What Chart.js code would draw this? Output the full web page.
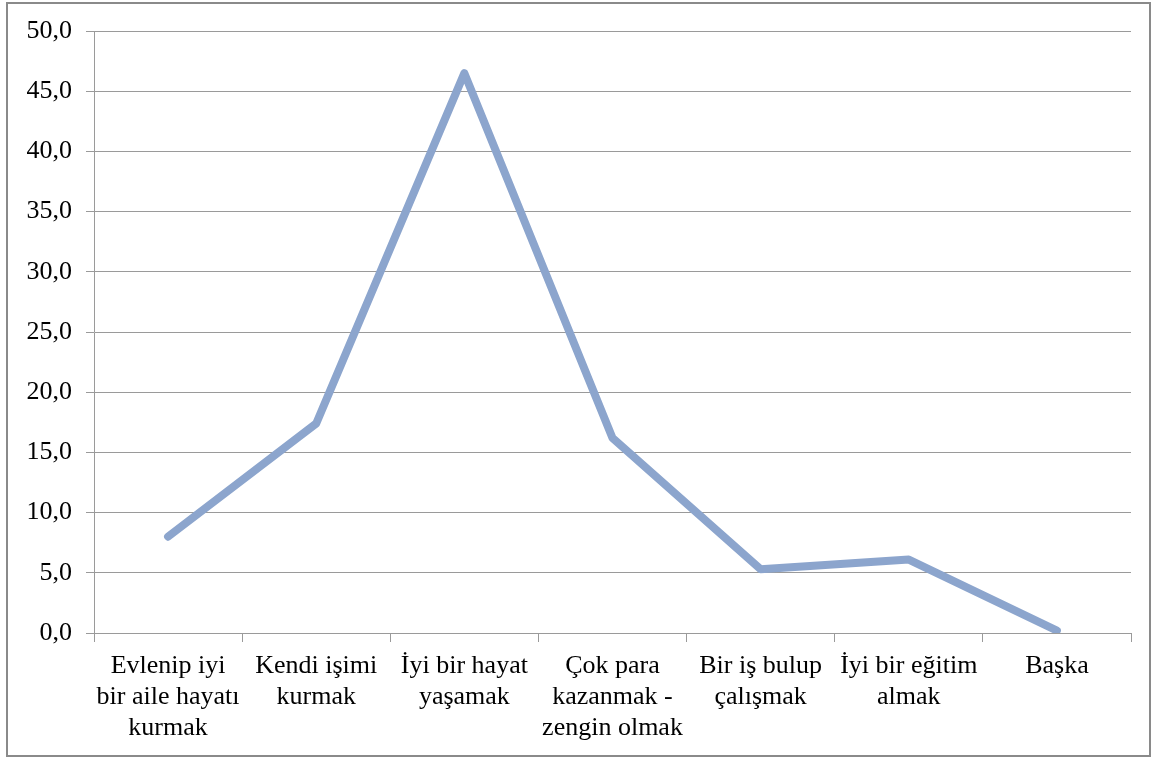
<!DOCTYPE html>
<html>
<head>
<meta charset="utf-8">
<script src="https://cdn.jsdelivr.net/npm/chart.js@4"></script>
<style>
  html, body { margin: 0; padding: 0; background: #fff; }
  #wrap { position: relative; width: 1155px; height: 758px; }
</style>
</head>
<body>
<div id="wrap"><canvas id="chart" width="1155" height="758"></canvas></div>
<script>
// categories (multi-line as in the original)
const categories = [
  ['Evlenip iyi', 'bir aile hayatı', 'kurmak'],
  ['Kendi işimi', 'kurmak'],
  ['İyi bir hayat', 'yaşamak'],
  ['Çok para', 'kazanmak -', 'zengin olmak'],
  ['Bir iş bulup', 'çalışmak'],
  ['İyi bir eğitim', 'almak'],
  ['Başka']
];
const values = [8.0, 17.4, 46.5, 16.2, 5.3, 6.1, 0.2];
const yMin = 0, yMax = 50, yStep = 5;

const gridColor = '#9a9a9a';
const fontFamily = "'Liberation Serif'";

Chart.defaults.font.family = fontFamily;
Chart.defaults.font.size = 26;
Chart.defaults.color = '#000';

// outer frame around the chart
const framePlugin = {
  id: 'frame',
  afterDraw(chart) {
    const c = chart.ctx;
    c.save();
    c.strokeStyle = '#8a8a8a';
    c.lineWidth = 2;
    c.strokeRect(7, 3, 1143, 753);
    c.restore();
  }
};

new Chart(document.getElementById('chart'), {
  type: 'line',
  data: {
    labels: categories,
    datasets: [{
      data: values,
      borderColor: '#8ca5cd',
      borderWidth: 8,
      pointRadius: 0,
      tension: 0,
      borderCapStyle: 'round',
      borderJoinStyle: 'round',
      fill: false
    }]
  },
  options: {
    responsive: false,
    animation: false,
    layout: { padding: { top: 31, right: 24, left: 0, bottom: 0 } },
    plugins: { legend: { display: false }, tooltip: { enabled: false } },
    scales: {
      x: {
        offset: true,
        grid: { offset: true, drawOnChartArea: false, drawTicks: true, tickLength: 9, color: gridColor },
        border: { display: true, color: gridColor, width: 1 },
        ticks: {
          color: '#000',
          padding: 9,
          maxRotation: 0,
          autoSkip: false,
          font: { family: fontFamily, size: 26, lineHeight: 1.19 }
        },
        afterFit(scale) { scale.height = 125; }
      },
      y: {
        min: yMin,
        max: yMax,
        ticks: {
          stepSize: yStep,
          color: '#000',
          padding: 14,
          font: { family: fontFamily, size: 26 },
          callback: v => v.toFixed(1).replace('.', ',')
        },
        grid: { color: gridColor, tickLength: 8, drawTicks: true },
        border: { display: true, color: gridColor, width: 1 },
        afterFit(scale) { scale.width = 94; }
      }
    }
  },
  plugins: [framePlugin]
});
</script>
</body>
</html>
